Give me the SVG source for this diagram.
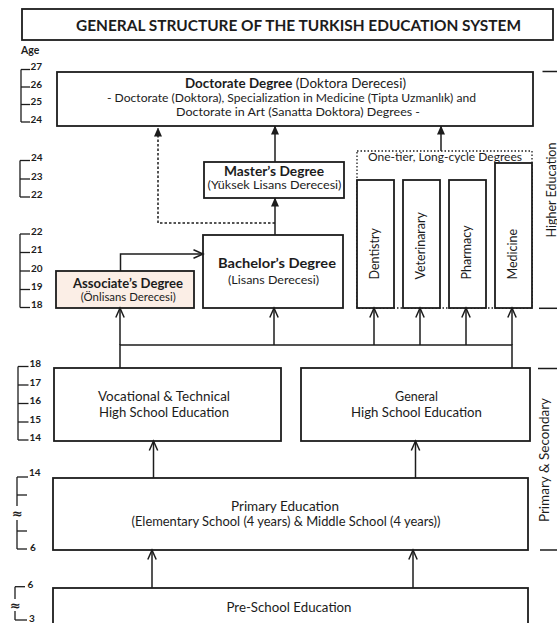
<svg xmlns="http://www.w3.org/2000/svg" width="557" height="623" viewBox="0 0 557 623">
<style>
text{font-family:Lato,'Open Sans','Liberation Sans',sans-serif;fill:#1c1c1c}
.box{fill:#fff;stroke:#1c1c1c;stroke-width:1.8}
.b{font-weight:700}
.c{text-anchor:middle}
.ln{fill:none;stroke:#1c1c1c;stroke-width:1.5}
.dash{stroke-dasharray:2.5 2}
.dot{fill:none;stroke:#1c1c1c;stroke-width:1.3;stroke-dasharray:1.5 2}
.age line{stroke:#1c1c1c;stroke-width:1.3}
.age text{font-size:10px;font-weight:700}
.age .ap{font-family:'DejaVu Sans',sans-serif;font-size:13px;font-weight:700}
.side line{stroke:#1c1c1c;stroke-width:1.5}
</style>
<defs>
<marker id="af" viewBox="0 0 9 8" refX="8.5" refY="4" markerWidth="9" markerHeight="8" markerUnits="userSpaceOnUse" orient="auto"><path d="M0,0 L9,4 L0,8 Z" fill="#1c1c1c"/></marker>
<marker id="ao" viewBox="0 0 11 10" refX="10" refY="5" markerWidth="11" markerHeight="10" markerUnits="userSpaceOnUse" orient="auto" style="overflow:visible"><path d="M0.5,0.8 L10,5 L0.5,9.2" fill="none" stroke="#1c1c1c" stroke-width="1.5"/></marker>
</defs>
<rect width="557" height="623" fill="#fff"/>

<g id="title"><rect class="box" x="22" y="9" width="531" height="31"/><text class="b c" x="298.5" y="31" font-size="14.5" textLength="445" lengthAdjust="spacingAndGlyphs">GENERAL STRUCTURE OF THE TURKISH EDUCATION SYSTEM</text></g>

<g id="age-axis" class="age">
<text x="21" y="54" style="font-size:10.5px">Age</text>
<line x1="21" y1="69.5" x2="21" y2="122"/>
<line x1="21" y1="69.5" x2="30" y2="69.5"/><line x1="21" y1="87" x2="30" y2="87"/><line x1="21" y1="104.5" x2="30" y2="104.5"/><line x1="21" y1="122" x2="30" y2="122"/>
<text x="30.5" y="70">27</text><text x="30.5" y="87.5">26</text><text x="30.5" y="105">25</text><text x="30.5" y="122.5">24</text>
<line x1="20" y1="160.5" x2="20" y2="197"/>
<line x1="20" y1="160.5" x2="30" y2="160.5"/><line x1="20" y1="179" x2="30" y2="179"/><line x1="20" y1="197" x2="30" y2="197"/>
<text x="31" y="161">24</text><text x="31" y="179.5">23</text><text x="31" y="197.5">22</text>
<line x1="20" y1="234" x2="20" y2="307.5"/>
<line x1="20" y1="234" x2="30" y2="234"/><line x1="20" y1="252.5" x2="30" y2="252.5"/><line x1="20" y1="271" x2="30" y2="271"/><line x1="20" y1="289.5" x2="30" y2="289.5"/><line x1="20" y1="307.5" x2="30" y2="307.5"/>
<text x="31" y="234.5">22</text><text x="31" y="253">21</text><text x="31" y="271.5">20</text><text x="31" y="290">19</text><text x="31" y="308">18</text>
<line x1="18" y1="366.5" x2="18" y2="440"/>
<line x1="18" y1="366.5" x2="28.5" y2="366.5"/><line x1="18" y1="385" x2="28.5" y2="385"/><line x1="18" y1="403.5" x2="28.5" y2="403.5"/><line x1="18" y1="422" x2="28.5" y2="422"/><line x1="18" y1="440" x2="28.5" y2="440"/>
<text x="29.5" y="367">18</text><text x="29.5" y="385.5">17</text><text x="29.5" y="404">16</text><text x="29.5" y="422.5">15</text><text x="29.5" y="440.5">14</text>
<line x1="17" y1="477" x2="17" y2="506"/><line x1="17" y1="520" x2="17" y2="549"/>
<line x1="17" y1="477" x2="28" y2="477"/><line x1="17" y1="495" x2="27" y2="495"/><line x1="17" y1="531" x2="27" y2="531"/><line x1="17" y1="549" x2="27" y2="549"/>
<text x="29" y="475.5">14</text><text class="c ap" x="17.5" y="517.5">≈</text><text x="30" y="551">6</text>
<line x1="15" y1="586.7" x2="15" y2="599"/><line x1="15" y1="611" x2="15" y2="620"/>
<line x1="15" y1="586.7" x2="25" y2="586.7"/><line x1="15" y1="620" x2="27" y2="620"/>
<text x="27.5" y="588">6</text><text class="c ap" x="15.5" y="609.5">≈</text><text x="29" y="621.5">3</text>
</g>

<g id="doctorate"><rect class="box" x="57" y="72" width="476" height="54"/>
<text class="c" x="295.5" y="88" font-size="12.5" textLength="221" lengthAdjust="spacingAndGlyphs"><tspan class="b">Doctorate Degree</tspan> (Doktora Derecesi)</text>
<text class="c" x="291.5" y="102" font-size="12" textLength="369" lengthAdjust="spacingAndGlyphs">- Doctorate (Doktora), Specialization in Medicine (Tipta Uzmanlık) and</text>
<text class="c" x="298" y="116" font-size="12" textLength="244" lengthAdjust="spacingAndGlyphs">Doctorate in Art (Sanatta Doktora) Degrees -</text></g>

<g id="masters"><rect class="box" x="204" y="162" width="140" height="36"/>
<text class="b c" x="274" y="176" font-size="12.5" textLength="100" lengthAdjust="spacingAndGlyphs">Master’s Degree</text>
<text class="c" x="274.5" y="188.5" font-size="11.5" textLength="134" lengthAdjust="spacingAndGlyphs">(Yüksek Lisans Derecesi)</text></g>

<g id="bachelors"><rect class="box" x="203" y="235" width="140" height="73"/>
<text class="b c" x="277" y="268" font-size="13.5" textLength="118" lengthAdjust="spacingAndGlyphs">Bachelor’s Degree</text>
<text class="c" x="273.5" y="284" font-size="11.5" textLength="91" lengthAdjust="spacingAndGlyphs">(Lisans Derecesi)</text></g>

<g id="associates"><rect class="box" x="56" y="271" width="138" height="37" style="fill:#fbeee6"/>
<text class="b c" x="128" y="288" font-size="13" textLength="110" lengthAdjust="spacingAndGlyphs">Associate’s Degree</text>
<text class="c" x="128.3" y="301" font-size="11.5" textLength="95" lengthAdjust="spacingAndGlyphs">(Önlisans Derecesi)</text></g>

<g id="one-tier"><rect class="dot" x="357" y="151" width="175" height="157"/>
<text class="c" x="445" y="160.5" font-size="11.5" textLength="154" lengthAdjust="spacingAndGlyphs">One-tier, Long-cycle Degrees</text></g>

<g id="dentistry"><rect class="box" x="357" y="180" width="37" height="128"/><text x="379" y="279.5" transform="rotate(-90 379 279.5)" font-size="12.5">Dentistry</text></g>
<g id="veterinarary"><rect class="box" x="403" y="180" width="37" height="128"/><text x="425" y="279.5" transform="rotate(-90 425 279.5)" font-size="12.5">Veterinarary</text></g>
<g id="pharmacy"><rect class="box" x="449" y="180" width="37" height="128"/><text x="470.5" y="279.5" transform="rotate(-90 470.5 279.5)" font-size="12.5">Pharmacy</text></g>
<g id="medicine"><rect class="box" x="495" y="163" width="37" height="145"/><text x="516.5" y="279.5" transform="rotate(-90 516.5 279.5)" font-size="12.5">Medicine</text></g>

<g id="vocational"><rect class="box" x="54" y="368" width="227" height="73"/>
<text class="c" x="164" y="401" font-size="12.5" textLength="132" lengthAdjust="spacingAndGlyphs">Vocational &amp; Technical</text>
<text class="c" x="164" y="417" font-size="12.5" textLength="130" lengthAdjust="spacingAndGlyphs">High School Education</text></g>

<g id="general"><rect class="box" x="301" y="368" width="229" height="73"/>
<text class="c" x="416.5" y="401" font-size="12.5">General</text>
<text class="c" x="416.5" y="417" font-size="12.5" textLength="131" lengthAdjust="spacingAndGlyphs">High School Education</text></g>

<g id="primary"><rect class="box" x="53" y="478" width="475" height="72"/>
<text class="c" x="285" y="511" font-size="12.5" textLength="108" lengthAdjust="spacingAndGlyphs">Primary Education</text>
<text class="c" x="286" y="526" font-size="12.5" textLength="309" lengthAdjust="spacingAndGlyphs">(Elementary School (4 years) &amp; Middle School (4 years))</text></g>

<g id="preschool"><rect class="box" x="53" y="588" width="475" height="50"/>
<text class="c" x="289" y="612" font-size="12.5" textLength="125" lengthAdjust="spacingAndGlyphs">Pre-School Education</text></g>

<g id="side-labels" class="side">
<line x1="542.5" y1="71.5" x2="557" y2="71.5"/><line x1="539" y1="308.3" x2="557" y2="308.3"/>
<text class="c" x="555.5" y="190" transform="rotate(-90 555.5 190)" font-size="12.5">Higher Education</text>
<line x1="538" y1="368.5" x2="557" y2="368.5"/><line x1="540" y1="550" x2="557" y2="550"/>
<text class="c" x="549" y="460" transform="rotate(-90 549 460)" font-size="13.5">Primary &amp; Secondary</text>
</g>

<g id="connectors">
<path class="ln dash" d="M275,223 H158 V128" marker-end="url(#af)"/>
<path class="ln" d="M275,235 V198" marker-end="url(#af)"/>
<path class="ln" d="M275,162 V126" marker-end="url(#af)"/>
<path class="ln" d="M441,151 V126" marker-end="url(#af)"/>
<path class="ln" d="M120.5,271 V254 H203" marker-end="url(#ao)"/>
<path class="ln" d="M120,368 V345 H512 V368"/>
<path class="ln" d="M120,345 V308" marker-end="url(#ao)"/>
<path class="ln" d="M274,345 V308" marker-end="url(#ao)"/>
<path class="ln" d="M374,345 V308" marker-end="url(#ao)"/>
<path class="ln" d="M420,345 V308" marker-end="url(#ao)"/>
<path class="ln" d="M466,345 V308" marker-end="url(#ao)"/>
<path class="ln" d="M512,345 V308" marker-end="url(#ao)"/>
<path class="ln" d="M153.5,478 V441" marker-end="url(#ao)"/>
<path class="ln" d="M415.5,478 V441" marker-end="url(#ao)"/>
<path class="ln" d="M152,588 V550" marker-end="url(#ao)"/>
<path class="ln" d="M413,588 V550" marker-end="url(#ao)"/>
</g>
</svg>
